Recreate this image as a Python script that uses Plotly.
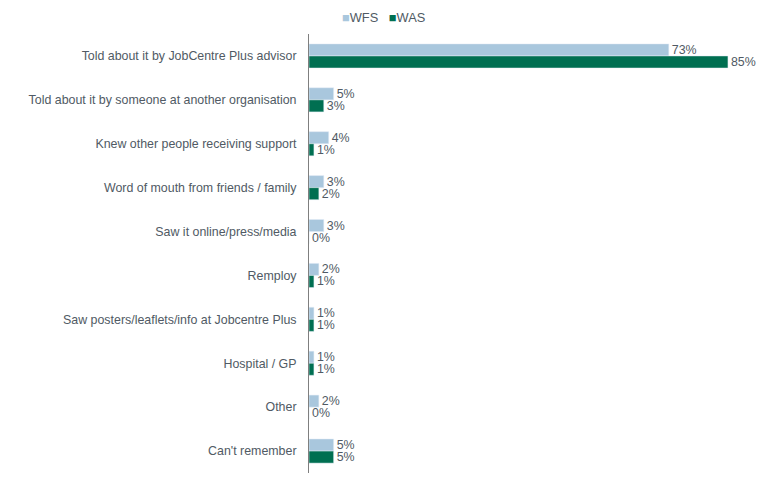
import plotly.graph_objects as go

categories = [
    "Told about it by JobCentre Plus advisor",
    "Told about it by someone at another organisation",
    "Knew other people receiving support",
    "Word of mouth from friends / family",
    "Saw it online/press/media",
    "Remploy",
    "Saw posters/leaflets/info at Jobcentre Plus",
    "Hospital / GP",
    "Other",
    "Can't remember",
]
wfs = [73, 5, 4, 3, 3, 2, 1, 1, 2, 5]
was = [85, 3, 1, 2, 0, 1, 1, 1, 0, 5]

WFS_COLOR = "#a9c7dd"
WAS_COLOR = "#006f51"
font_main = dict(family="Liberation Sans, Arial, sans-serif", size=12.4, color="#505a64")

fig = go.Figure()
fig.add_trace(go.Bar(
    y=categories, x=wfs, name="WFS", orientation="h",
    marker=dict(color=WFS_COLOR),
    text=[f"{v}%" for v in wfs], textposition="outside",
    textfont=font_main, cliponaxis=False, constraintext="none",
))
fig.add_trace(go.Bar(
    y=categories, x=was, name="WAS", orientation="h",
    marker=dict(color=WAS_COLOR),
    text=[f"{v}%" for v in was], textposition="outside",
    textfont=font_main, cliponaxis=False, constraintext="none",
))

# compact legend like the original (small squares)
fig.add_annotation(
    xref="paper", yref="paper", x=0.166, y=1.0, yshift=25,
    xanchor="center", yanchor="top", showarrow=False, borderpad=0,
    text=(f'<span style="color:{WFS_COLOR}">■</span>WFS   '
          f'<span style="color:{WAS_COLOR}">■</span>WAS'),
    font=dict(family="Liberation Sans, Arial, sans-serif", size=12.8, color="#505a64"),
)

fig.update_layout(
    width=760, height=472,
    margin=dict(l=301, r=8, t=26, b=7, autoexpand=False),
    barmode="group", bargap=0.45, bargroupgap=0,
    plot_bgcolor="white", paper_bgcolor="white",
    font=font_main,
    showlegend=False,
    xaxis=dict(range=[0, 91.5], showgrid=False, showticklabels=False,
               zeroline=False, showline=False, ticks=""),
    yaxis=dict(autorange="reversed", showgrid=False, ticks="",
               showline=True, linecolor="#7f7f7f", linewidth=1,
               automargin=False, ticklabelstandoff=9, tickfont=font_main),
)

fig.write_html("out.html")
